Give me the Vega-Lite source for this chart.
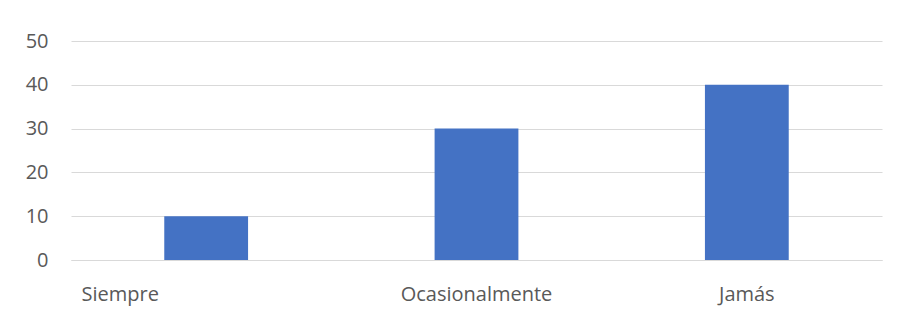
{
  "$schema": "https://vega.github.io/schema/vega-lite/v6.json",
  "autosize": {"type": "none"},
  "padding": {"left": 71, "top": 41, "right": 17, "bottom": 54},
  "width": 811,
  "height": 219,
  "background": "#ffffff",
  "config": {"view": {"stroke": null}, "font": "Open Sans"},
  "data": {"values": [
    {"categoria": "Siempre", "valor": 10},
    {"categoria": "Ocasionalmente", "valor": 30},
    {"categoria": "Jamás", "valor": 40}
  ]},
  "mark": {"type": "bar", "color": "#4472C4"},
  "encoding": {
    "x": {
      "field": "categoria", "type": "nominal", "sort": null,
      "scale": {"paddingInner": 0.69, "paddingOuter": 0.345},
      "axis": {
        "title": null, "labelAngle": 0, "ticks": false, "tickSize": 0,
        "domainColor": "#D9D9D9", "domainWidth": 1,
        "labelFont": "Open Sans", "labelFontSize": 20, "labelColor": "#595959",
        "labelBaseline": "alphabetic", "labelPadding": 40,
        "labelOffset": {"condition": {"test": "datum.value == 'Siempre'", "value": -86}, "value": 0}
      }
    },
    "y": {
      "field": "valor", "type": "quantitative",
      "scale": {"domain": [0, 50]},
      "axis": {
        "title": null, "values": [0, 10, 20, 30, 40, 50], "ticks": false, "domain": false,
        "gridColor": "#D9D9D9", "gridWidth": 1,
        "labelFont": "Open Sans", "labelFontSize": 20, "labelColor": "#595959",
        "labelPadding": 23
      }
    }
  }
}
